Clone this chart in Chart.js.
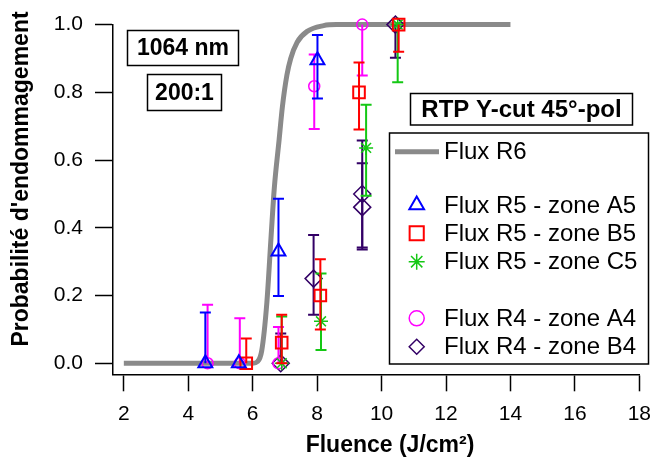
<!DOCTYPE html>
<html>
<head>
<meta charset="utf-8">
<script src="https://cdn.jsdelivr.net/npm/chart.js@4.4.1/dist/chart.umd.min.js"></script>
<style>
    html, body { margin: 0; padding: 0; background: #ffffff; }
</style>
</head>
<body>
<canvas id="chart" width="661" height="467"></canvas>
<script>
// Flux R6 fitted curve
const curveX = [2, 6.0, 6.15, 6.28, 6.44, 6.57, 6.67, 6.82, 6.92, 7.06, 7.18, 7.38, 7.69, 8.2, 8.6, 14];
const curveY = [0, 0, 0.005, 0.037, 0.18, 0.373, 0.517, 0.66, 0.756, 0.85, 0.9, 0.948, 0.98, 0.997, 1.0, 1.0];

// Flux R5 - zone A5
const a5X = [4.53, 5.57, 6.8, 8.01];
const a5Y = [0, 0, 0.33, 0.895];
const a5Lo = [0, 0, 0.199, 0.782];
const a5Hi = [0.15, 0, 0.486, 0.969];

// Flux R5 - zone B5
const b5X = [5.8, 6.9, 8.1, 9.3, 10.53];
const b5Y = [0, 0.061, 0.2, 0.8, 1.0];
const b5Lo = [0, 0, 0.1, 0.69, 0.92];
const b5Hi = [0.073, 0.143, 0.307, 0.888, 1.0];

// Flux R5 - zone C5
const c5X = [6.9, 8.12, 9.52, 10.5];
const c5Y = [0, 0.124, 0.636, 1.0];
const c5Lo = [0, 0.039, 0.495, 0.83];
const c5Hi = [0.138, 0.265, 0.763, 1.0];

// Flux R4 - zone A4
const a4X = [4.6, 5.6, 6.8, 7.91, 9.4];
const a4Y = [0, 0, 0, 0.818, 1.0];
const a4Lo = [0, 0, 0, 0.692, 0.85];
const a4Hi = [0.173, 0.133, 0.107, 0.912, 1.0];

// Flux R4 - zone B4
const b4X = [6.87, 7.89, 9.4, 9.4, 10.43];
const b4Y = [0, 0.25, 0.5, 0.461, 1.0];
const b4Lo = [0, 0.143, 0.342, 0.336, 0.902];
const b4Hi = [0.088, 0.379, 0.658, 0.591, 1.0];

const xTicks = [2, 4, 6, 8, 10, 12, 14, 16, 18];
const yTicks = [0, 0.2, 0.4, 0.6, 0.8, 1.0];

const FONT = "'Liberation Sans', Arial, sans-serif";

function toPoints(xs, ys) {
    return xs.map((x, i) => ({ x: x, y: ys[i] }));
}

function markerSeries(label, xs, ys, lo, hi, color, style, radius, width) {
    return {
        label: label,
        data: toPoints(xs, ys),
        errLo: lo,
        errHi: hi,
        showLine: false,
        borderColor: color,
        backgroundColor: "rgba(0,0,0,0)",
        pointStyle: style,
        pointRadius: radius,
        pointBorderWidth: width,
        pointBorderColor: color,
        pointBackgroundColor: "rgba(0,0,0,0)",
        clip: false,
        order: 1
    };
}

const datasets = [
    {
        label: "Flux R6",
        data: toPoints(curveX, curveY),
        showLine: true,
        borderColor: "#8a8a8a",
        borderWidth: 5,
        pointRadius: 0,
        cubicInterpolationMode: "monotone",
        clip: false,
        order: 10
    },
    markerSeries("Flux R5 - zone A5", a5X, a5Y, a5Lo, a5Hi, "#0000ff", "triangle", 8, 2),
    markerSeries("Flux R5 - zone B5", b5X, b5Y, b5Lo, b5Hi, "#ff0000", "rect", 8.2, 2),
    markerSeries("Flux R5 - zone C5", c5X, c5Y, c5Lo, c5Hi, "#14c814", "star", 7, 1.5),
    markerSeries("Flux R4 - zone A4", a4X, a4Y, a4Lo, a4Hi, "#ff00ff", "circle", 5.5, 1.5),
    markerSeries("Flux R4 - zone B4", b4X, b4Y, b4Lo, b4Hi, "#330066", "rectRot", 8.5, 1.5)
];

// vertical error bars, drawn under each series' markers
const errorBars = {
    id: "errorBars",
    beforeDatasetDraw(chart, args) {
        const ds = chart.data.datasets[args.index];
        if (!ds.errLo) {
            return;
        }
        const ctx = chart.ctx;
        const xs = chart.scales.x;
        const ys = chart.scales.y;
        const cap = 5.5;
        ctx.save();
        ctx.strokeStyle = ds.borderColor;
        ctx.lineWidth = 2;
        ds.data.forEach((p, i) => {
            if (ds.errHi[i] <= p.y && ds.errLo[i] >= p.y) {
                return;
            }
            const x = xs.getPixelForValue(p.x);
            const yl = ys.getPixelForValue(ds.errLo[i]);
            const yh = ys.getPixelForValue(ds.errHi[i]);
            ctx.beginPath();
            ctx.moveTo(x, yl);
            ctx.lineTo(x, yh);
            if (ds.errHi[i] > p.y) {
                ctx.moveTo(x - cap, yh);
                ctx.lineTo(x + cap, yh);
            }
            if (ds.errLo[i] < p.y) {
                ctx.moveTo(x - cap, yl);
                ctx.lineTo(x + cap, yl);
            }
            ctx.stroke();
        });
        ctx.restore();
    }
};

function textBox(ctx, text, left, top, right, bottom, bold, size) {
    ctx.strokeStyle = "#000000";
    ctx.lineWidth = 1.5;
    ctx.strokeRect(left, top, right - left, bottom - top);
    ctx.fillStyle = "#000000";
    ctx.font = (bold ? "bold " : "") + size + "px " + FONT;
    ctx.textAlign = "center";
    ctx.textBaseline = "middle";
    ctx.fillText(text, (left + right) / 2, (top + bottom) / 2 + 1);
}

// annotation boxes, legend and axis titles
const decorations = {
    id: "decorations",
    afterDraw(chart) {
        const ctx = chart.ctx;
        ctx.save();

        textBox(ctx, "1064 nm", 127.5, 30.5, 238.5, 65.5, true, 23);
        textBox(ctx, "200:1", 147.5, 74.5, 221.5, 110.5, true, 23);
        textBox(ctx, "RTP Y-cut 45°-pol", 410.5, 93.5, 632.5, 125, true, 24);

        // legend frame
        ctx.strokeStyle = "#000000";
        ctx.lineWidth = 1.5;
        ctx.fillStyle = "#ffffff";
        ctx.fillRect(389.5, 133, 259, 231);
        ctx.strokeRect(389.5, 133, 259, 231);

        const rows = [151.7, 205, 233.3, 261.7, 318.3, 346.7];
        const legendRadius = [0, 8.5, 10, 8, 7.5, 7.5];
        ctx.font = "24px " + FONT;
        ctx.textAlign = "left";
        ctx.textBaseline = "middle";
        chart.data.datasets.forEach((ds, i) => {
            const y = rows[i];
            ctx.strokeStyle = ds.borderColor;
            if (i === 0) {
                ctx.lineWidth = 5;
                ctx.beginPath();
                ctx.moveTo(395, y);
                ctx.lineTo(439, y);
                ctx.stroke();
            } else {
                ctx.lineWidth = ds.pointBorderWidth;
                ctx.fillStyle = "rgba(0,0,0,0)";
                Chart.helpers.drawPoint(ctx, {
                    pointStyle: ds.pointStyle,
                    radius: legendRadius[i],
                    borderWidth: ds.pointBorderWidth,
                    rotation: 0
                }, 416.7, y);
            }
            ctx.fillStyle = "#000000";
            ctx.fillText(ds.label, 444, y + 1);
        });

        // axis titles
        ctx.fillStyle = "#000000";
        ctx.font = "bold 23px " + FONT;
        ctx.textAlign = "center";
        ctx.textBaseline = "middle";
        ctx.fillText("Fluence (J/cm²)", 390, 446);
        ctx.translate(22, 179);
        ctx.rotate(-Math.PI / 2);
        ctx.fillText("Probabilité d'endommagement", 0, 0);

        ctx.restore();
    }
};

new Chart(document.getElementById("chart"), {
    type: "scatter",
    data: { datasets: datasets },
    options: {
        responsive: false,
        animation: false,
        events: [],
        layout: {
            padding: { top: 15, right: 14, left: 0, bottom: 0 }
        },
        plugins: {
            legend: { display: false },
            tooltip: { enabled: false }
        },
        scales: {
            x: {
                type: "linear",
                min: 1.664,
                max: 18,
                afterBuildTicks: axis => {
                    axis.ticks = xTicks.map(v => ({ value: v }));
                },
                afterFit: scale => {
                    scale.height = 92.7;
                },
                grid: {
                    drawOnChartArea: false,
                    drawTicks: true,
                    tickLength: 17,
                    tickColor: "#000000",
                    tickWidth: 1.5
                },
                border: { display: true, color: "#000000", width: 1.5 },
                ticks: {
                    color: "#000000",
                    padding: 10,
                    maxRotation: 0,
                    font: { family: FONT, size: 21 },
                    callback: value => value
                }
            },
            y: {
                type: "linear",
                min: -0.0325,
                max: 1.0,
                afterBuildTicks: axis => {
                    axis.ticks = yTicks.map(v => ({ value: v }));
                },
                afterFit: scale => {
                    scale.width = 113;
                },
                grid: {
                    drawOnChartArea: false,
                    drawTicks: true,
                    tickLength: 18,
                    tickColor: "#000000",
                    tickWidth: 1.5
                },
                border: { display: true, color: "#000000", width: 1.5 },
                ticks: {
                    color: "#000000",
                    padding: 12,
                    font: { family: FONT, size: 21 },
                    callback: value => value.toFixed(1)
                }
            }
        }
    },
    plugins: [errorBars, decorations]
});
</script>
</body>
</html>
